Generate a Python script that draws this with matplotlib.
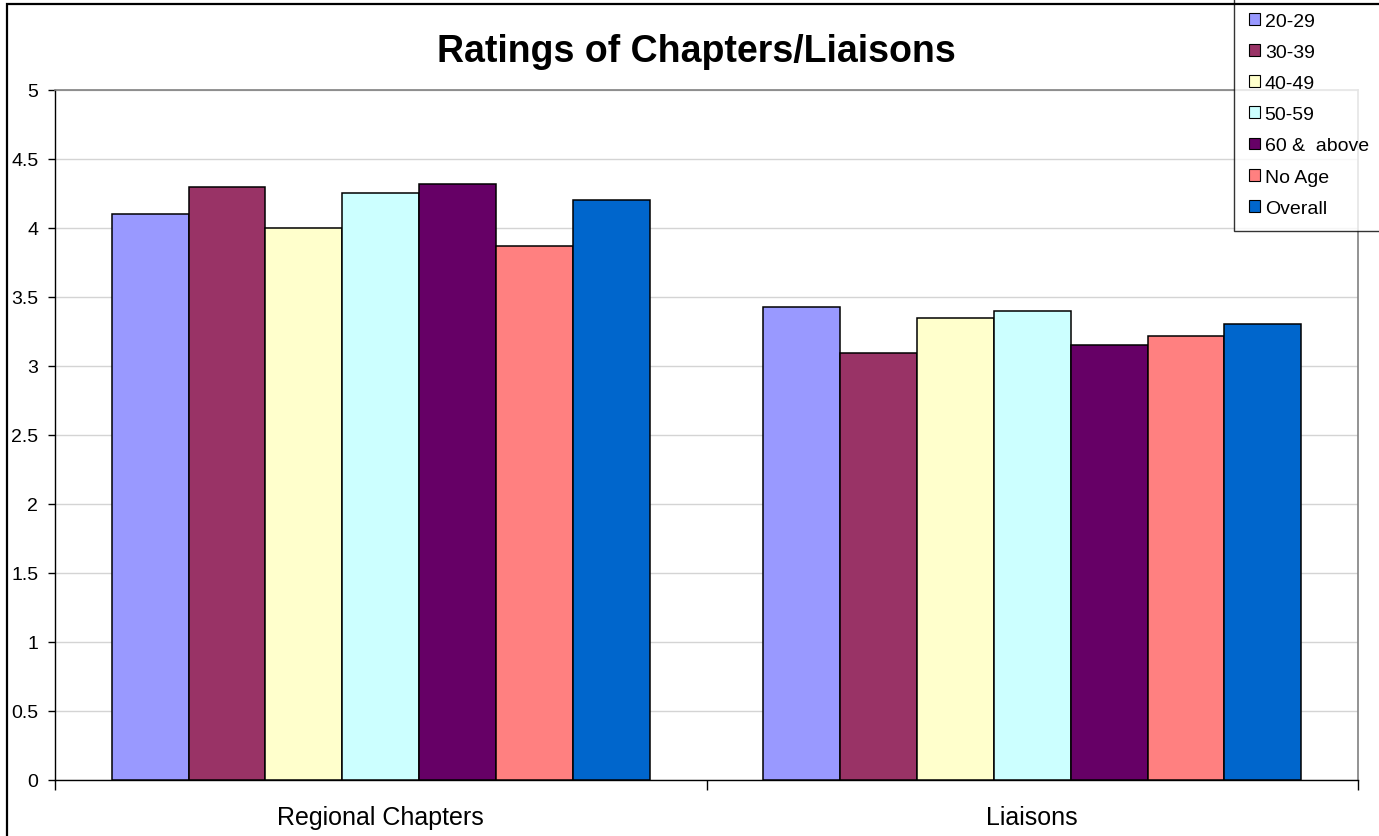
import matplotlib
matplotlib.use("Agg")
import matplotlib.pyplot as plt
from matplotlib.patches import Rectangle, Patch
import numpy as np

plt.rcParams['font.family'] = ['Liberation Sans', 'DejaVu Sans']

categories = ["Regional Chapters", "Liaisons"]
series_names = ["20-29", "30-39", "40-49", "50-59", "60 &  above", "No Age", "Overall"]
values_20_29 = [4.10, 3.43]
values_30_39 = [4.30, 3.09]
values_40_49 = [4.00, 3.35]
values_50_59 = [4.25, 3.40]
values_60_up = [4.32, 3.15]
values_no_age = [3.87, 3.22]
values_overall = [4.20, 3.30]
series_values = [values_20_29, values_30_39, values_40_49, values_50_59,
                 values_60_up, values_no_age, values_overall]
colors = ["#9999FF", "#993366", "#FFFFCC", "#CCFFFF", "#660066", "#FF8080", "#0066CC"]
y_ticks = [0, 0.5, 1, 1.5, 2, 2.5, 3, 3.5, 4, 4.5, 5]
y_tick_labels = ["0", "0.5", "1", "1.5", "2", "2.5", "3", "3.5", "4", "4.5", "5"]

W, H = 1379, 837
fig = plt.figure(figsize=(W / 100, H / 100), dpi=100)
ax = fig.add_axes([55 / W, 1 - 780.7 / H, (1358 - 55) / W, (780.7 - 91) / H])

n = len(series_names)
bw = 0.118
x = np.arange(len(categories))
for i, (vals, col, name) in enumerate(zip(series_values, colors, series_names)):
    offs = (i - (n - 1) / 2) * bw
    ax.bar(x + offs, vals, width=bw, color=col, edgecolor="black",
           linewidth=1.1, label=name, zorder=3)

ax.set_xlim(-0.5, 1.5)
ax.set_ylim(0, 5)
ax.set_yticks(y_ticks)
ax.set_yticklabels(y_tick_labels, fontsize=14)
ax.yaxis.grid(True, color="#d4d4d4", linewidth=1.0, zorder=0)
ax.set_axisbelow(True)

# category labels sit between the boundary ticks
ax.set_xticks([-0.5, 0.5, 1.5])
ax.set_xticklabels([])
ax.set_xticks(x, minor=True)
ax.set_xticklabels(categories, minor=True, fontsize=18)
ax.tick_params(axis="x", which="major", direction="out", length=7, width=1, color="black")
ax.tick_params(axis="x", which="minor", length=0, pad=18)
ax.tick_params(axis="y", direction="out", length=5, width=1, pad=7)

for s in ["left", "bottom"]:
    ax.spines[s].set_color("black")
    ax.spines[s].set_linewidth(1.0)
for s in ["top", "right"]:
    ax.spines[s].set_color("#808080")
    ax.spines[s].set_linewidth(1.2)

fig.text(696 / W, 1 - 62 / H, "Ratings of Chapters/Liaisons", ha="center", va="baseline",
         fontsize=27, fontweight="bold")

handles = [Patch(facecolor=c, edgecolor="black", linewidth=0.8) for c in colors]
leg = fig.legend(handles, series_names, loc="upper left",
                 bbox_to_anchor=(1234 / W, 1 + 1 / H), fontsize=14,
                 frameon=True, fancybox=False, edgecolor="black",
                 handlelength=0.57, handleheight=0.57, handletextpad=0.26,
                 labelspacing=0.73, borderpad=0.75, borderaxespad=0)
leg.get_frame().set_linewidth(1.0)

# chart area border, drawn over the legend's top edge
fig.patches.append(Rectangle((7 / W, -0.05), 1.2, 1 - 5 / H + 0.05, transform=fig.transFigure,
                             fill=False, edgecolor="black", linewidth=1.6, zorder=6))

fig.savefig("out.png", dpi=100, facecolor="white")
